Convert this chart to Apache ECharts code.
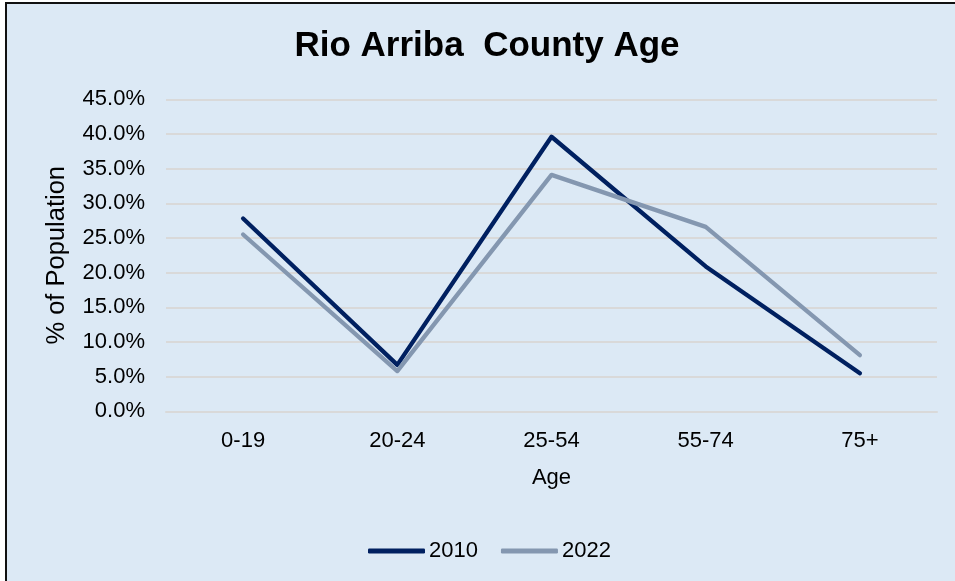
<!DOCTYPE html>
<html>
<head>
<meta charset="utf-8">
<script src="https://cdn.jsdelivr.net/npm/echarts@6/dist/echarts.min.js"></script>
<style>
  html, body { margin: 0; padding: 0; background: #ffffff; }
  #panel {
    position: absolute; left: 5px; top: 2px; width: 950px; height: 579px;
    background: #dce9f5; border-left: 2px solid #111; border-top: 2px solid #111;
    box-sizing: border-box;
  }
  #chart { position: absolute; left: 0; top: 0; width: 955px; height: 581px; }
</style>
</head>
<body>
<div id="panel"></div>
<div id="chart"></div>
<script>
// Age groups and share of population (%) by year
const ageGroups = ['0-19', '20-24', '25-54', '55-74', '75+'];
const share2010 = [27.8, 6.7, 39.6, 20.9, 5.5];
const share2022 = [25.5, 5.8, 34.1, 26.6, 8.1];
const seriesNames = ['2010', '2022'];

const font = 'Arial, "Liberation Sans", sans-serif';
const chart = echarts.init(document.getElementById('chart'), null, { renderer: 'canvas' });

function lineSeries(name, data, color) {
  return {
    name: name,
    type: 'line',
    data: data,
    symbol: 'none',
    smooth: false,
    lineStyle: { color: color, width: 4.3, cap: 'round', join: 'round' },
    itemStyle: { color: color }
  };
}

chart.setOption({
  backgroundColor: 'transparent',
  animation: false,
  title: {
    text: 'Rio Arriba  County Age',
    left: 482, top: 24, textAlign: 'center',
    textStyle: { fontFamily: font, fontSize: 35, fontWeight: 'bold', color: '#000' }
  },
  grid: { left: 166, right: 18, top: 99.3, bottom: 169.7, containLabel: false },
  legend: {
    data: seriesNames,
    left: 363, top: 535,
    icon: 'roundRect',
    itemWidth: 57, itemHeight: 5, itemGap: 23,
    textStyle: { fontFamily: font, fontSize: 22, color: '#000', padding: [0, 0, 0, -1] }
  },
  xAxis: {
    type: 'category',
    data: ageGroups,
    boundaryGap: true,
    name: 'Age',
    nameLocation: 'middle',
    nameGap: 56,
    nameTextStyle: { fontFamily: font, fontSize: 22, color: '#000' },
    axisLine: { show: true, lineStyle: { color: '#d9d9d9', width: 2 } },
    axisTick: { show: false },
    axisLabel: { fontFamily: font, fontSize: 22, color: '#000', margin: 19 }
  },
  yAxis: {
    type: 'value',
    min: 0, max: 45, interval: 5,
    name: '% of Population',
    nameLocation: 'middle',
    nameRotate: 90,
    nameGap: 96,
    nameTextStyle: { fontFamily: font, fontSize: 25.5, color: '#000' },
    axisLine: { show: false },
    axisTick: { show: false },
    axisLabel: {
      fontFamily: font, fontSize: 22, color: '#000', margin: 21,
      formatter: v => v.toFixed(1) + '%'
    },
    splitLine: { show: true, lineStyle: { color: '#d9d9d9', width: 2 } }
  },
  series: [
    lineSeries(seriesNames[0], share2010, '#002060'),
    lineSeries(seriesNames[1], share2022, '#8497b0')
  ]
});
</script>
</body>
</html>
